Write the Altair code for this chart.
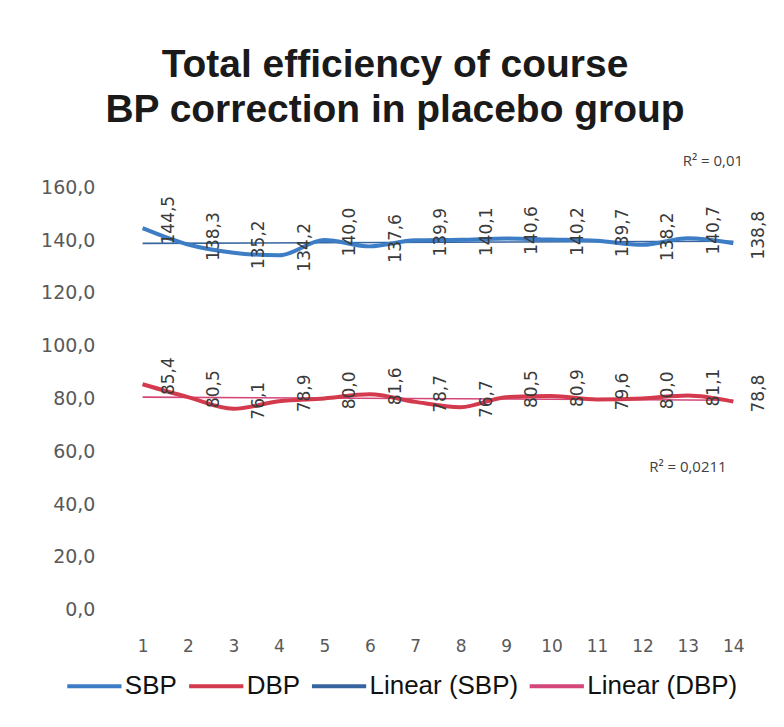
import altair as alt
import pandas as pd

days = list(range(1, 15))
sbp = [144.5, 138.3, 135.2, 134.2, 140.0, 137.6, 139.9, 140.1, 140.6, 140.2, 139.7, 138.2, 140.7, 138.8]
dbp = [85.4, 80.5, 76.1, 78.9, 80.0, 81.6, 78.7, 76.7, 80.5, 80.9, 79.6, 80.0, 81.1, 78.8]
series_names = ["SBP", "DBP", "Linear (SBP)", "Linear (DBP)"]
series_colors = ["#3d7dc6", "#d43a4d", "#35649f", "#d4467a"]
r2_labels = ["R² = 0,01", "R² = 0,0211"]
r2_x = [13.55, 13.0]
r2_y = [170, 54]

rows = []
for d, v in zip(days, sbp):
    rows.append({"x": d, "value": v, "series": "SBP"})
for d, v in zip(days, dbp):
    rows.append({"x": d, "value": v, "series": "DBP"})
df = pd.DataFrame(rows)
df["label"] = df["value"].map(lambda v: f"{v:.1f}".replace(".", ","))

r2_df = pd.DataFrame({"text": r2_labels, "x": r2_x, "value": r2_y})

FONT = "DejaVu Sans"

x_enc = alt.X("x:Q", scale=alt.Scale(domain=[0.5, 14.5], nice=False, zero=False),
              axis=alt.Axis(values=days, title=None, grid=False, domain=False, ticks=False,
                            labelFont=FONT, labelFontSize=17, labelColor="#595959",
                            labelPadding=29))
y_enc = alt.Y("value:Q", scale=alt.Scale(domain=[0, 160], nice=False),
              axis=alt.Axis(values=list(range(0, 161, 20)), title=None, grid=False,
                            domain=False, ticks=False, labelFont=FONT, labelFontSize=19,
                            labelColor="#595959", labelPadding=25,
                            labelExpr="replace(format(datum.value, '.1f'), '.', ',')"))

color_enc = alt.Color("series:N", scale=alt.Scale(domain=series_names, range=series_colors),
                      legend=alt.Legend(title=None, orient="none", legendX=-55, legendY=470,
                                        direction="horizontal", symbolType="stroke",
                                        symbolSize=2950, symbolStrokeWidth=4,
                                        labelFont="Liberation Sans",
                                        labelFontSize=26, labelColor="#111111",
                                        labelFontWeight="normal", columnPadding=3,
                                        labelOffset=1, padding=0))

base = alt.Chart(df)

lines = base.mark_line(interpolate="monotone", strokeWidth=4).encode(
    x=x_enc, y=y_enc, color=color_enc
)

trend = base.transform_regression("x", "value", groupby=["series"]).transform_calculate(
    series="'Linear (' + datum.series + ')'"
).mark_line(strokeWidth=1.6).encode(x="x:Q", y="value:Q", color=color_enc)

labels = base.mark_text(angle=270, fontSize=17, font=FONT, color="#3a3a3a",
                        align="center", baseline="middle", dy=26, dx=8).encode(
    x="x:Q", y="value:Q", text="label:N"
)

r2 = alt.Chart(r2_df).mark_text(fontSize=15, font="Open Sans", color="#404040",
                                 align="center", baseline="middle").encode(
    x="x:Q", y="value:Q", text="text:N"
)

chart = alt.layer(trend, lines, labels, r2).properties(
    width=637, height=423,
    padding={"left": 112, "top": 179, "right": 20, "bottom": 110},
    autosize=alt.AutoSizeParams(type="none"),
    title=alt.TitleParams(
        text=["Total efficiency of course", "BP correction in placebo group"],
        font="Liberation Sans", fontSize=39, fontWeight="bold", color="#1a1a1a",
        anchor="middle", dx=-43, offset=24, lineHeight=45
    ),
).configure_view(stroke=None)

chart.save("out.html", embed_options={"renderer": "svg", "actions": False})
